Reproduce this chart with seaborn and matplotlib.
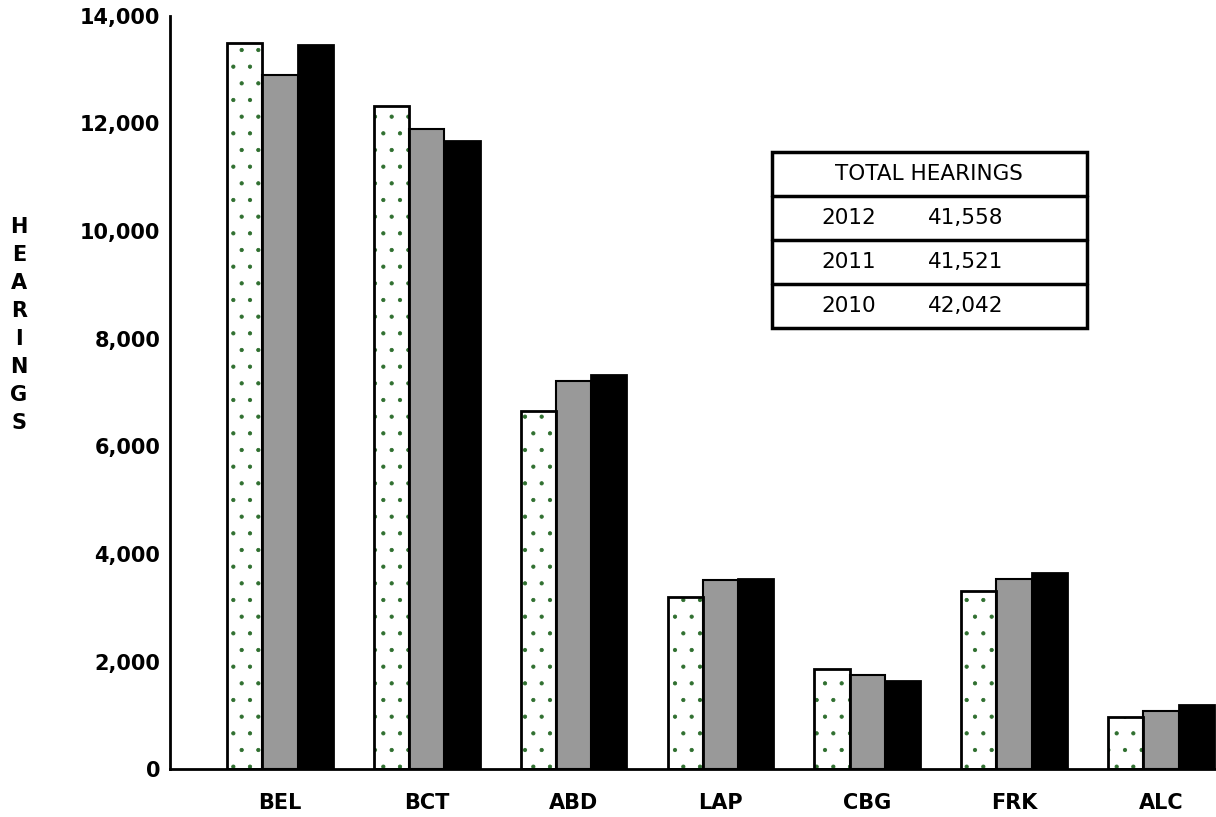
import pandas as pd
import matplotlib.pyplot as plt
import seaborn as sns
from matplotlib.patches import Rectangle
from matplotlib.lines import Line2D

# ---- data ----
courts = ["BEL", "BCT", "ABD", "LAP", "CBG", "FRK", "ALC"]
years = ["2012", "2011", "2010"]
hearings_2012 = [13490, 12330, 6650, 3210, 1860, 3310, 970]
hearings_2011 = [12890, 11890, 7210, 3520, 1750, 3530, 1080]
hearings_2010 = [13460, 11680, 7320, 3540, 1640, 3650, 1200]

table_title = "TOTAL HEARINGS"
table_years = ["2012", "2011", "2010"]
table_totals = ["41,558", "41,521", "42,042"]

df = pd.DataFrame({
    "court": courts * 3,
    "year": [y for y in years for _ in courts],
    "hearings": hearings_2012 + hearings_2011 + hearings_2010,
})

sns.set_style("white")
plt.rcParams["font.family"] = ["DejaVu Sans"]
plt.rcParams["text.color"] = "black"
plt.rcParams["xtick.color"] = "black"
plt.rcParams["ytick.color"] = "black"
plt.rcParams["hatch.linewidth"] = 0.6

W, H = 1216, 817
fig = plt.figure(figsize=(W / 100, H / 100), dpi=100)
ax = fig.add_axes([170 / W, (H - 769.4) / H, (W - 170) / W, (769.4 - 15.7) / H])

palette = {"2012": "white", "2011": "#999999", "2010": "black"}
sns.barplot(data=df, x="court", y="hearings", hue="year", hue_order=years,
            order=courts, palette=palette, width=0.72, edgecolor="black",
            linewidth=2, legend=False, saturation=1, ax=ax)

# dotted green fill on the 2012 bars, with a black outline on top
n = len(courts)
for p in ax.patches[:n]:
    p.set_hatch(".")
    p.set_edgecolor("#2f6f2f")
    p.set_linewidth(0)
    bb = p.get_bbox()
    ax.add_patch(Rectangle((bb.x0, bb.y0), bb.width, bb.height, fill=False,
                           edgecolor="black", linewidth=2, zorder=p.get_zorder() + 0.1))
for p in ax.patches[n:2 * n]:
    p.set_linewidth(1.5)

ax.set_xlim(-0.749, 6.375)
ax.set_ylim(0, 14000)
ax.set_yticks(range(0, 14001, 2000))
ax.set_yticklabels([f"{v:,}" for v in range(0, 14001, 2000)])
ax.tick_params(axis="y", direction="in", length=18, width=1.5, color="black",
               pad=7, labelsize=15, labelcolor="black")
ax.tick_params(axis="x", length=0, pad=17, labelsize=15, labelcolor="black")
for lbl in ax.get_xticklabels() + ax.get_yticklabels():
    lbl.set_fontweight("bold")
ax.set_xlabel("")
ax.set_ylabel("")

sns.despine(ax=ax)
for s in ["left", "bottom"]:
    ax.spines[s].set_color("black")
    ax.spines[s].set_linewidth(2)

# stacked vertical axis title
fig.text(19 / W, 1 - 325 / H, "\n".join("HEARINGS"), ha="center", va="center",
         fontsize=15, fontweight="bold", linespacing=1.5, multialignment="center")

# totals box
x0, x1 = 772 / W, 1087 / W
row_tops = [152, 196, 240, 284, 328]
ys = [1 - y / H for y in row_tops]
fig.add_artist(Rectangle((x0, ys[-1]), x1 - x0, ys[0] - ys[-1], fill=False,
                         edgecolor="black", linewidth=2.5, transform=fig.transFigure))
for y in ys[1:-1]:
    fig.add_artist(Line2D([x0, x1], [y, y], color="black", linewidth=2.5,
                          transform=fig.transFigure))
fig.text(929 / W, (ys[0] + ys[1]) / 2, table_title, ha="center", va="center", fontsize=15.5)
for i, (yr, tot) in enumerate(zip(table_years, table_totals)):
    yc = (ys[i + 1] + ys[i + 2]) / 2
    fig.text(821 / W, yc, yr, ha="left", va="center", fontsize=15.5)
    fig.text(928 / W, yc, tot, ha="left", va="center", fontsize=15.5)

fig.savefig("out.png", dpi=100)
